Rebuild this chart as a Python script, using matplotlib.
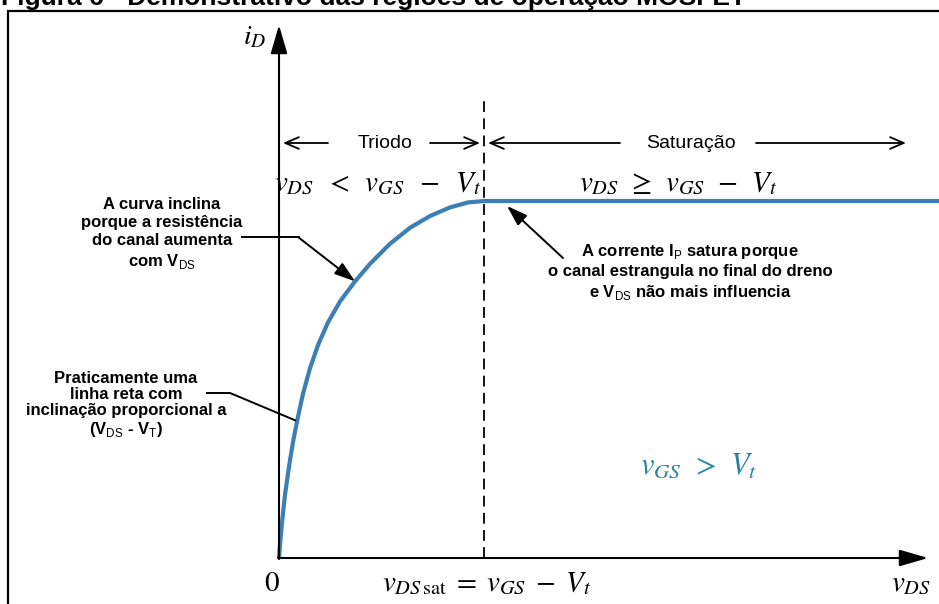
import matplotlib
matplotlib.use("Agg")
import matplotlib.pyplot as plt

plt.rcParams["mathtext.fontset"] = "stix"

# Normalised MOSFET output characteristic (v_DS / v_DSsat, i_D / I_Dsat)
vds_triode = [0.0, 0.005, 0.015, 0.029, 0.049, 0.068, 0.088, 0.117, 0.151, 0.190,
              0.239, 0.298, 0.371, 0.444, 0.541, 0.639, 0.737, 0.834, 0.922, 1.0]
id_triode = [0.0, 0.039, 0.101, 0.176, 0.257, 0.324, 0.383, 0.460, 0.531, 0.596,
             0.660, 0.719, 0.775, 0.824, 0.880, 0.925, 0.958, 0.982, 0.996, 1.0]
vds_sat = [1.0, 3.30]
id_sat = [1.0, 1.0]
vds_boundary = 1.0

CURVE = "#3d7eb5"
TEAL = "#2a82a4"
W, H = 939, 604

fig = plt.figure(figsize=(W / 100, H / 100), dpi=100)

# data axes: origin of the characteristic at pixel (279, 558)
ax = fig.add_axes([0, 0, 1, 1])
x0, y0, sx, sy = 279, 558, 205, 357
ax.set_xlim(-x0 / sx, (W - x0) / sx)
ax.set_ylim((y0 - H) / sy, y0 / sy)
ax.axis("off")

# layout axes in pixel units for frame, labels and notes
lay = fig.add_axes([0, 0, 1, 1])
lay.set_xlim(0, W)
lay.set_ylim(H, 0)
lay.axis("off")
lay.patch.set_alpha(0)


def to_px(x, y):
    return (x0 + x * sx, y0 - y * sy)


# frame and caption
lay.plot([8, 8, W + 5], [H + 5, 11, 11], color="black", lw=1.6, solid_joinstyle="miter")
lay.text(1, 5, "Figura 6 - Demonstrativo das regiões de operação MOSFET",
         fontsize=19, fontweight="bold", family="Liberation Sans",
         ha="left", va="baseline")

# axes arrows
ax_arrow = dict(arrowstyle="-|>,head_length=1.1,head_width=0.32",
                color="black", lw=1.5, mutation_scale=16, shrinkA=0, shrinkB=0)
lay.annotate("", xy=(279, 25), xytext=(279, 559), arrowprops=ax_arrow)
lay.annotate("", xy=(928, 558), xytext=(278, 558), arrowprops=ax_arrow)

# boundary between triode and saturation
ax.plot([vds_boundary, vds_boundary], [0, (y0 - 95) / sy], color="black",
        lw=1.3, linestyle=(0, (6, 3.5)))

# characteristic curve
ax.plot(vds_triode, id_triode, color=CURVE, lw=3.0, solid_joinstyle="round",
        solid_capstyle="butt")
ax.plot(vds_sat, id_sat, color=CURVE, lw=3.0, solid_capstyle="butt")

# region headers with arrows
reg_arrow = dict(arrowstyle="->,head_length=0.7,head_width=0.3", color="black",
                 lw=1.3, mutation_scale=14, shrinkA=0, shrinkB=0)
ry = 143
for tail, head in [(328, 283), (430, 480), (620, 488), (756, 906)]:
    lay.annotate("", xy=(head, ry), xytext=(tail, ry), arrowprops=reg_arrow)
narrow = ["Liberation Sans Narrow", "Liberation Sans"]
lay.text(385, ry, "Triodo", fontsize=14, family=narrow, ha="center", va="center")
lay.text(691, ry, "Saturação", fontsize=14, family=narrow, ha="center", va="center")

mkw = dict(fontsize=21, ha="center", va="baseline", math_fontfamily="stix")
lay.text(378, 191, r"$v_{DS}\;\; <\;\; v_{GS}\;\; -\;\; V_t$", **mkw)
lay.text(678, 191, r"$v_{DS}\;\, \geq\;\, v_{GS}\;\, -\;\, V_t$", **mkw)
lay.text(255, 44, r"$i_D$", fontsize=20, ha="center", va="baseline", math_fontfamily="stix")
lay.text(272, 591, r"$0$", **mkw)
lay.text(487, 591, r"$v_{DS\,\mathrm{sat}}\; =\; v_{GS}\; -\; V_t$", **mkw)
lay.text(911, 591, r"$v_{DS}$", **mkw)
lay.text(699, 474, r"$v_{GS}\;\, >\;\, V_t$", fontsize=22, color=TEAL, ha="center",
         va="baseline", math_fontfamily="stix")

# explanatory notes
plt.rcParams["mathtext.fontset"] = "custom"
plt.rcParams["mathtext.rm"] = "Liberation Sans"
nkw = dict(fontsize=12, fontweight="bold", family="Liberation Sans",
           ha="center", va="center", math_fontfamily="custom")

lay.text(162, 234, "A curva inclina\nporque a resistência\ndo canal aumenta\n"
         r"com V$_{\mathrm{DS}}$", linespacing=1.25, **nkw)
tip1 = to_px(vds_triode[12], id_triode[12])
lay.plot([242, 299], [237, 237], color="black", lw=1.4)
lay.annotate("", xy=tip1, xytext=(298, 237),
             arrowprops=dict(arrowstyle="-|>,head_length=0.9,head_width=0.3",
                             color="black", lw=1.4, mutation_scale=14,
                             shrinkA=0, shrinkB=0))

lay.text(126, 405, "Praticamente uma\nlinha reta com\ninclinação proporcional a\n"
         r"(V$_{\mathrm{DS}}$ - V$_{\mathrm{T}}$)", linespacing=1.1, **nkw)
tip2 = to_px(vds_triode[6], id_triode[6])
lay.plot([207, 230, tip2[0] - 2], [393, 393, tip2[1] - 1], color="black", lw=1.4)

lay.text(690, 272, r"A corrente I$_{\mathrm{P}}$ satura porque" "\n"
         "o canal estrangula no final do dreno\n"
         r"e V$_{\mathrm{DS}}$ não mais influencia", linespacing=1.25, **nkw)
lay.annotate("", xy=(507, 206), xytext=(563, 258),
             arrowprops=dict(arrowstyle="-|>,head_length=0.9,head_width=0.3",
                             color="black", lw=1.4, mutation_scale=14,
                             shrinkA=0, shrinkB=0))

fig.savefig("out.png", dpi=100, facecolor="white")
